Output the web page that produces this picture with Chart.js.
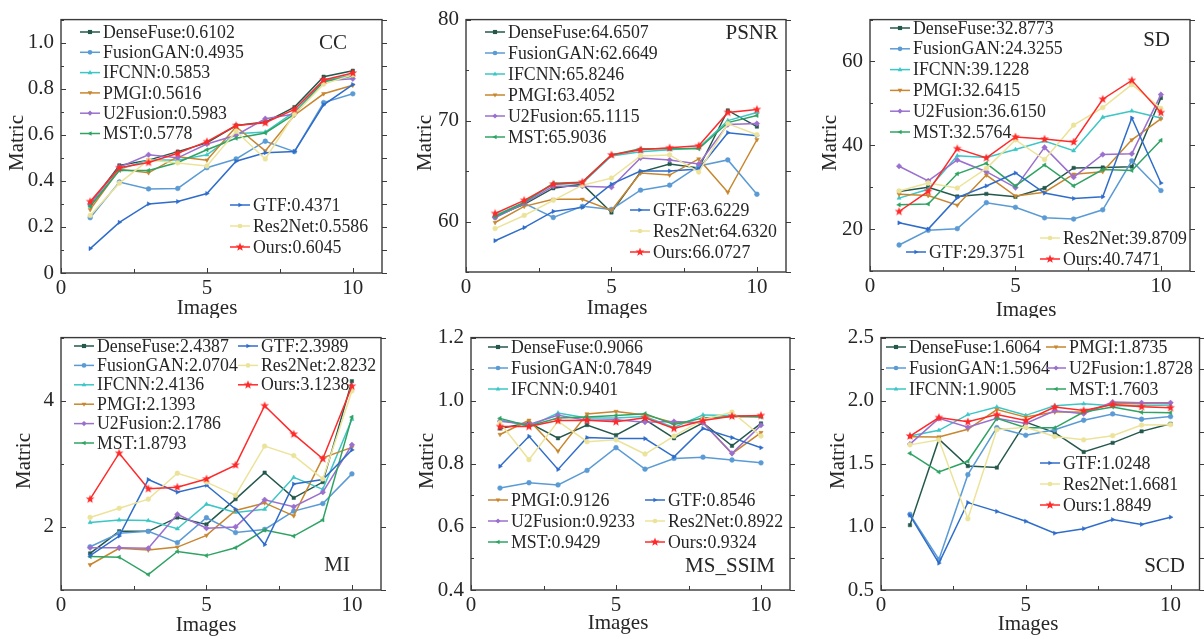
<!DOCTYPE html>
<html><head><meta charset="utf-8">
<script src="https://cdn.jsdelivr.net/npm/chart.js@4/dist/chart.umd.min.js"></script>
<style>
html,body{margin:0;padding:0;background:#fff;width:1204px;height:639px;overflow:hidden;position:relative}
.cell{position:absolute}
canvas{display:block}
</style></head><body>
<div class="cell" style="left:0px;top:0px"><canvas id="c0" width="400" height="318"></canvas></div>
<div class="cell" style="left:400px;top:0px"><canvas id="c1" width="400" height="318"></canvas></div>
<div class="cell" style="left:800px;top:0px"><canvas id="c2" width="404" height="318"></canvas></div>
<div class="cell" style="left:0px;top:318px"><canvas id="c3" width="400" height="321"></canvas></div>
<div class="cell" style="left:400px;top:318px"><canvas id="c4" width="400" height="321"></canvas></div>
<div class="cell" style="left:800px;top:318px"><canvas id="c5" width="404" height="321"></canvas></div>
<script>
// ---------------- DATA ----------------
const categories = [1, 2, 3, 4, 5, 6, 7, 8, 9, 10];
const methods = ['DenseFuse', 'FusionGAN', 'IFCNN', 'PMGI', 'U2Fusion', 'MST', 'GTF', 'Res2Net', 'Ours'];
const xTickValues = [0, 5, 10];

// CC
const ccDenseFuse = [0.300, 0.467, 0.490, 0.527, 0.565, 0.640, 0.655, 0.720, 0.852, 0.878];
const ccFusionGAN = [0.240, 0.395, 0.365, 0.367, 0.457, 0.495, 0.572, 0.527, 0.740, 0.778];
const ccIFCNN     = [0.290, 0.450, 0.490, 0.490, 0.513, 0.605, 0.612, 0.700, 0.835, 0.860];
const ccPMGI      = [0.275, 0.450, 0.435, 0.505, 0.490, 0.635, 0.530, 0.685, 0.778, 0.815];
const ccU2Fusion  = [0.300, 0.460, 0.513, 0.500, 0.560, 0.598, 0.670, 0.690, 0.835, 0.843];
const ccMST       = [0.290, 0.445, 0.445, 0.480, 0.535, 0.585, 0.608, 0.690, 0.830, 0.855];
const ccGTF       = [0.106, 0.220, 0.300, 0.310, 0.345, 0.485, 0.522, 0.527, 0.730, 0.818];
const ccRes2Net   = [0.250, 0.390, 0.490, 0.478, 0.465, 0.615, 0.495, 0.690, 0.820, 0.860];
const ccOurs      = [0.310, 0.457, 0.480, 0.520, 0.570, 0.640, 0.652, 0.710, 0.838, 0.868];
const ccMeans     = [0.6102, 0.4935, 0.5853, 0.5616, 0.5983, 0.5778, 0.4371, 0.5586, 0.6045];
const ccYTicks    = [0, 0.2, 0.4, 0.6, 0.8, 1.0];

// PSNR
const psnrDenseFuse = [60.5, 61.7, 63.3, 63.7, 60.9, 64.9, 65.7, 65.3, 71.0, 69.4];
const psnrFusionGAN = [60.4, 61.8, 60.4, 61.5, 61.2, 63.1, 63.6, 65.5, 66.1, 62.7];
const psnrIFCNN     = [60.6, 61.9, 63.7, 63.8, 66.5, 66.9, 67.1, 67.3, 70.0, 70.8];
const psnrPMGI      = [59.9, 61.5, 62.2, 62.2, 61.1, 64.8, 64.6, 66.2, 62.9, 68.1];
const psnrU2Fusion  = [60.4, 61.8, 63.5, 63.5, 63.4, 66.3, 66.1, 65.7, 69.6, 69.7];
const psnrMST       = [60.5, 61.9, 63.8, 63.9, 66.6, 67.2, 67.2, 67.2, 69.8, 70.5];
const psnrGTF       = [58.1, 59.4, 61.0, 61.4, 63.7, 65.0, 65.0, 65.2, 68.8, 68.5];
const psnrRes2Net   = [59.3, 60.6, 62.1, 63.6, 64.3, 66.5, 66.6, 64.9, 69.7, 68.6];
const psnrOurs      = [60.8, 62.1, 63.7, 63.9, 66.6, 67.1, 67.3, 67.5, 70.8, 71.1];
const psnrMeans     = [64.6507, 62.6649, 65.8246, 63.4052, 65.1115, 65.9036, 63.6229, 64.6320, 66.0727];
const psnrYTicks    = [60, 70, 80];

// SD
const sdDenseFuse = [29.0, 30.0, 27.8, 28.4, 27.7, 29.8, 34.6, 34.7, 34.9, 51.3];
const sdFusionGAN = [16.2, 19.7, 20.1, 26.3, 25.2, 22.7, 22.4, 24.6, 36.3, 29.2];
const sdIFCNN     = [27.4, 29.5, 37.5, 37.1, 39.0, 41.0, 38.7, 46.7, 48.2, 46.5];
const sdPMGI      = [28.3, 28.0, 25.7, 32.9, 27.9, 28.8, 33.1, 33.7, 41.3, 46.3];
const sdU2Fusion  = [35.0, 31.5, 36.5, 33.7, 29.9, 39.5, 32.4, 37.8, 38.0, 52.1];
const sdMST       = [25.8, 26.0, 33.2, 35.7, 30.3, 35.3, 30.3, 34.2, 34.0, 41.2];
const sdGTF       = [21.5, 20.0, 27.5, 30.3, 33.4, 28.6, 27.3, 27.7, 46.5, 31.0];
const sdRes2Net   = [29.1, 31.0, 29.8, 34.5, 41.3, 36.6, 44.8, 49.0, 54.5, 48.8];
const sdOurs      = [24.2, 29.0, 39.2, 37.0, 42.0, 41.5, 40.8, 51.0, 55.5, 47.8];
const sdMeans     = [32.8773, 24.3255, 39.1228, 32.6415, 36.6150, 32.5764, 29.3751, 39.8709, 40.7471];
const sdYTicks    = [20, 40, 60];

// MI
const miDenseFuse = [1.58, 1.93, 1.93, 2.15, 2.04, 2.44, 2.86, 2.46, 2.71, 4.31];
const miFusionGAN = [1.685, 1.90, 1.93, 1.75, 2.145, 1.91, 1.96, 2.25, 2.37, 2.84];
const miIFCNN     = [2.07, 2.11, 2.10, 1.97, 2.36, 2.23, 2.28, 2.785, 2.595, 3.705];
const miPMGI      = [1.40, 1.66, 1.633, 1.68, 1.865, 2.26, 2.38, 2.175, 3.095, 3.26];
const miU2Fusion  = [1.67, 1.67, 1.66, 2.20, 1.98, 2.00, 2.43, 2.32, 2.55, 3.30];
const miMST       = [1.53, 1.52, 1.245, 1.61, 1.545, 1.67, 1.95, 1.855, 2.11, 3.74];
const miGTF       = [1.545, 1.855, 2.75, 2.55, 2.66, 2.28, 1.72, 2.68, 2.75, 3.22];
const miRes2Net   = [2.15, 2.295, 2.44, 2.85, 2.71, 2.50, 3.28, 3.13, 2.76, 4.155];
const miOurs      = [2.44, 3.168, 2.605, 2.63, 2.76, 2.98, 3.92, 3.47, 3.08, 4.23];
const miMeans     = [2.4387, 2.0704, 2.4136, 2.1393, 2.1786, 1.8793, 2.3989, 2.8232, 3.1238];
const miYTicks    = [2, 4];

// MS_SSIM
const msDenseFuse = [0.912, 0.930, 0.881, 0.923, 0.891, 0.940, 0.881, 0.930, 0.857, 0.928];
const msFusionGAN = [0.723, 0.740, 0.733, 0.779, 0.851, 0.783, 0.817, 0.821, 0.812, 0.803];
const msIFCNN     = [0.940, 0.918, 0.961, 0.945, 0.945, 0.950, 0.915, 0.955, 0.953, 0.950];
const msPMGI      = [0.893, 0.938, 0.840, 0.958, 0.966, 0.955, 0.930, 0.930, 0.832, 0.899];
const msU2Fusion  = [0.935, 0.925, 0.954, 0.938, 0.940, 0.932, 0.934, 0.930, 0.833, 0.922];
const msMST       = [0.944, 0.920, 0.945, 0.948, 0.953, 0.959, 0.925, 0.945, 0.950, 0.948];
const msGTF       = [0.792, 0.887, 0.782, 0.883, 0.880, 0.880, 0.822, 0.912, 0.883, 0.851];
const msRes2Net   = [0.930, 0.813, 0.935, 0.870, 0.876, 0.831, 0.888, 0.940, 0.964, 0.888];
const msOurs      = [0.918, 0.918, 0.937, 0.938, 0.933, 0.946, 0.912, 0.937, 0.951, 0.953];
const msMeans     = [0.9066, 0.7849, 0.9401, 0.9126, 0.9233, 0.9429, 0.8546, 0.8922, 0.9324];
const msYTicks    = [0.4, 0.6, 0.8, 1.0, 1.2];

// SCD
const scdDenseFuse = [1.014, 1.695, 1.482, 1.470, 1.830, 1.747, 1.594, 1.666, 1.757, 1.817];
const scdFusionGAN = [1.100, 0.742, 1.414, 1.786, 1.726, 1.770, 1.845, 1.895, 1.853, 1.874];
const scdIFCNN     = [1.720, 1.765, 1.890, 1.950, 1.884, 1.960, 1.975, 1.960, 1.960, 1.965];
const scdPMGI      = [1.715, 1.713, 1.773, 1.930, 1.870, 1.910, 1.910, 1.975, 1.975, 1.980];
const scdU2Fusion  = [1.656, 1.860, 1.790, 1.860, 1.820, 1.920, 1.897, 1.990, 1.983, 1.983];
const scdMST       = [1.583, 1.435, 1.520, 1.860, 1.786, 1.785, 1.910, 1.950, 1.908, 1.905];
const scdGTF       = [1.092, 0.713, 1.193, 1.123, 1.045, 0.950, 0.986, 1.058, 1.020, 1.077];
const scdRes2Net   = [1.650, 1.690, 1.064, 1.770, 1.790, 1.716, 1.690, 1.723, 1.807, 1.810];
const scdOurs      = [1.720, 1.866, 1.833, 1.890, 1.843, 1.950, 1.923, 1.970, 1.952, 1.944];
const scdMeans     = [1.6064, 1.5964, 1.9005, 1.8735, 1.8728, 1.7603, 1.0248, 1.6681, 1.8849];
const scdYTicks    = [0.5, 1.0, 1.5, 2.0, 2.5];

// ---------------- STYLE ----------------
const seriesColors = ['#25584c', '#5b9bd5', '#3cc6c6', '#c8862e', '#9a6fce', '#2fa363', '#2f6dcb', '#ece39a', '#ff2a2a'];
const seriesMarkers = ['rect', 'circle', 'triangle', 'triangle', 'rectRot', 'triangle', 'triangle', 'circle', 'star'];
const seriesRot = [0, 0, 0, 180, 0, 270, 90, 0, 0];
const FONT = 'Liberation Serif, Times New Roman, serif';
const TEXT = '#262626';

function starImage(color, r) {
  const c = document.createElement('canvas');
  const s = Math.ceil(r * 2 + 2);
  c.width = s; c.height = s;
  const g = c.getContext('2d');
  g.fillStyle = color;
  g.beginPath();
  for (let k = 0; k < 10; k++) {
    const rad = k % 2 === 0 ? r : r * 0.42;
    const a = -Math.PI / 2 + k * Math.PI / 5;
    const px = s / 2 + rad * Math.cos(a), py = s / 2 + rad * Math.sin(a);
    if (k) g.lineTo(px, py); else g.moveTo(px, py);
  }
  g.closePath(); g.fill();
  return c;
}
const star = starImage('#ff2a2a', 4.6);

function drawMarker(ctx, i, x, y) {
  const style = seriesMarkers[i];
  const col = seriesColors[i];
  if (style === 'star') { ctx.drawImage(star, x - star.width / 2, y - star.height / 2); return; }
  ctx.save();
  ctx.fillStyle = col; ctx.strokeStyle = col; ctx.lineWidth = 1;
  ctx.translate(x, y);
  ctx.rotate(seriesRot[i] * Math.PI / 180);
  const r = 2.6;
  ctx.beginPath();
  if (style === 'rect') { ctx.rect(-r * 0.8, -r * 0.8, r * 1.6, r * 1.6); }
  else if (style === 'circle') { ctx.arc(0, 0, r * 0.9, 0, Math.PI * 2); }
  else if (style === 'rectRot') { ctx.moveTo(0, -r); ctx.lineTo(r, 0); ctx.lineTo(0, r); ctx.lineTo(-r, 0); ctx.closePath(); }
  else if (style === 'triangle') { ctx.moveTo(0, -r); ctx.lineTo(r * 0.9, r * 0.6); ctx.lineTo(-r * 0.9, r * 0.6); ctx.closePath(); }
  ctx.fill();
  ctx.restore();
}

// ---------------- PANELS ----------------
const panels = [
  { id: 'c0', cell: [0, 0, 400, 318], area: [61, 14, 382, 273], y: [0, 1.1], yTicks: ccYTicks, yMinor: 0.1,
    fmt: v => v === 0 ? '0' : v.toFixed(1), name: 'CC', nameAt: [347, 43],
    series: [ccDenseFuse, ccFusionGAN, ccIFCNN, ccPMGI, ccU2Fusion, ccMST, ccGTF, ccRes2Net, ccOurs], means: ccMeans,
    yTitle: [17, 143], xTitle: [207, 308],
    legend: [{ x: 80, y: 32, dy: 20.3, items: [0, 1, 2, 3, 4, 5] }, { x: 230, y: 205, dy: 21, items: [6, 7, 8] }] },
  { id: 'c1', cell: [400, 0, 400, 318], area: [466, 15, 786, 272], y: [55, 80], yTicks: psnrYTicks, yMinor: 5,
    fmt: v => String(v), name: 'PSNR', nameAt: [778, 33],
    series: [psnrDenseFuse, psnrFusionGAN, psnrIFCNN, psnrPMGI, psnrU2Fusion, psnrMST, psnrGTF, psnrRes2Net, psnrOurs], means: psnrMeans,
    yTitle: [425, 143], xTitle: [617, 308],
    legend: [{ x: 485, y: 32, dy: 21, items: [0, 1, 2, 3, 4, 5] }, { x: 630, y: 210, dy: 21, items: [6, 7, 8] }] },
  { id: 'c2', cell: [800, 0, 404, 318], area: [870, 14, 1190, 271], y: [10, 70], yTicks: sdYTicks, yMinor: 10,
    fmt: v => String(v), name: 'SD', nameAt: [1170, 40],
    series: [sdDenseFuse, sdFusionGAN, sdIFCNN, sdPMGI, sdU2Fusion, sdMST, sdGTF, sdRes2Net, sdOurs], means: sdMeans,
    yTitle: [830, 143], xTitle: [1026, 310],
    legend: [{ x: 890, y: 28, dy: 20.8, items: [0, 1, 2, 3, 4, 5] }, { x: 1040, y: 238, dy: 21, items: [7, 8] }, { x: 906, y: 252, dy: 0, items: [6] }] },
  { id: 'c3', cell: [0, 318, 400, 321], area: [61, 332, 381, 590], y: [1, 5], yTicks: miYTicks, yMinor: 1,
    fmt: v => String(v), name: 'MI', nameAt: [350, 565],
    series: [miDenseFuse, miFusionGAN, miIFCNN, miPMGI, miU2Fusion, miMST, miGTF, miRes2Net, miOurs], means: miMeans,
    yTitle: [24, 461], xTitle: [206, 625],
    legend: [{ x: 74, y: 346, dy: 19.4, items: [0, 1, 2, 3, 4, 5] }, { x: 238, y: 346, dy: 19.4, items: [6, 7, 8] }] },
  { id: 'c4', cell: [400, 318, 400, 321], area: [471, 333, 790, 590], y: [0.4, 1.2], yTicks: msYTicks, yMinor: 0.1,
    fmt: v => v.toFixed(1), name: 'MS_SSIM', nameAt: [775, 566],
    series: [msDenseFuse, msFusionGAN, msIFCNN, msPMGI, msU2Fusion, msMST, msGTF, msRes2Net, msOurs], means: msMeans,
    yTitle: [427, 461], xTitle: [618, 623],
    legend: [{ x: 488, y: 347, dy: 21, items: [0, 1, 2] }, { x: 488, y: 500, dy: 21, items: [3, 4, 5] }, { x: 645, y: 500, dy: 21, items: [6, 7, 8] }] },
  { id: 'c5', cell: [800, 318, 404, 321], area: [881, 333, 1200, 590], y: [0.5, 2.5], yTicks: scdYTicks, yMinor: 0.25,
    fmt: v => v.toFixed(1), name: 'SCD', nameAt: [1185, 566],
    series: [scdDenseFuse, scdFusionGAN, scdIFCNN, scdPMGI, scdU2Fusion, scdMST, scdGTF, scdRes2Net, scdOurs], means: scdMeans,
    yTitle: [838, 461], xTitle: [1028, 624],
    legend: [{ x: 886, y: 347, dy: 21, items: [0, 1, 2] }, { x: 1046, y: 347, dy: 21, items: [3, 4, 5] }, { x: 1040, y: 463, dy: 21, items: [6, 7, 8] }] }
];

const decor = {
  id: 'decor',
  afterDraw(chart) {
    const p = chart.options.plugins.decor.panel;
    const ctx = chart.ctx;
    const a = chart.chartArea;
    const ox = p.cell[0], oy = p.cell[1];
    const xs = chart.scales.x, ys = chart.scales.y;
    ctx.save();
    // frame
    ctx.strokeStyle = '#3a3a3a'; ctx.lineWidth = 1.4;
    ctx.strokeRect(a.left, a.top, a.right - a.left, a.bottom - a.top);
    // y ticks: left inward, right outward
    ctx.lineWidth = 1;
    const n = Math.round((p.y[1] - p.y[0]) / p.yMinor);
    for (let k = 0; k <= n; k++) {
      const v = +(p.y[0] + k * p.yMinor).toFixed(6);
      const yy = Math.round(ys.getPixelForValue(v)) + 0.5;
      const major = p.yTicks.some(t => Math.abs(t - v) < 1e-6);
      const len = major ? 5 : 3;
      ctx.beginPath();
      ctx.moveTo(a.left, yy); ctx.lineTo(a.left + len, yy);
      ctx.moveTo(a.right, yy); ctx.lineTo(a.right + 5, yy);
      ctx.stroke();
    }
    // x ticks: bottom inward every 2.5
    for (let v = 0; v <= 11; v += 2.5) {
      const xx = Math.round(xs.getPixelForValue(v)) + 0.5;
      const major = v % 5 === 0;
      ctx.beginPath();
      ctx.moveTo(xx, a.bottom); ctx.lineTo(xx, a.bottom - (major ? 5 : 4));
      ctx.stroke();
    }
    // axis titles
    ctx.fillStyle = TEXT;
    ctx.font = '21px ' + FONT;
    ctx.textAlign = 'center'; ctx.textBaseline = 'middle';
    ctx.fillText('Images', p.xTitle[0] - ox, p.xTitle[1] - oy);
    ctx.save();
    ctx.translate(p.yTitle[0] - ox, p.yTitle[1] - oy);
    ctx.rotate(-Math.PI / 2);
    ctx.fillText('Matric', 0, 0);
    ctx.restore();
    // metric name
    ctx.textAlign = 'right';
    ctx.fillText(p.name, p.nameAt[0] - ox, p.nameAt[1] - oy);
    // legend
    ctx.font = '17.8px ' + FONT;
    ctx.textAlign = 'left';
    p.legend.forEach(g => {
      g.items.forEach((i, r) => {
        const lx = g.x - ox, ly = g.y - oy + r * g.dy;
        ctx.strokeStyle = seriesColors[i]; ctx.lineWidth = 1.5;
        ctx.beginPath(); ctx.moveTo(lx, ly); ctx.lineTo(lx + 20, ly); ctx.stroke();
        drawMarker(ctx, i, lx + 10, ly);
        ctx.fillStyle = TEXT;
        ctx.fillText(methods[i] + ':' + p.means[i].toFixed(4), lx + 23, ly + 1);
      });
    });
    ctx.restore();
  }
};

panels.forEach(p => {
  const [cx, cy, cw, ch] = p.cell;
  const [L, T, R, B] = p.area;
  const datasets = methods.map((m, i) => ({
    label: m,
    data: categories.map((c, j) => ({ x: c, y: p.series[i][j] })),
    borderColor: seriesColors[i],
    backgroundColor: seriesColors[i],
    borderWidth: 1.5,
    pointStyle: seriesMarkers[i] === 'star' ? star : seriesMarkers[i],
    pointRotation: seriesRot[i],
    pointRadius: seriesMarkers[i] === 'rectRot' ? 2.8 : 2.4,
    pointBorderWidth: 0.5,
    tension: 0,
    order: 8 - i
  }));
  new Chart(document.getElementById(p.id), {
    type: 'line',
    data: { datasets },
    plugins: [decor],
    options: {
      responsive: false, animation: false, devicePixelRatio: 1,
      layout: { padding: { left: 0, top: T - cy, right: cx + cw - R, bottom: 0 } },
      plugins: { legend: { display: false }, tooltip: { enabled: false }, decor: { panel: p } },
      scales: {
        x: {
          type: 'linear', min: 0, max: 11,
          afterBuildTicks: s => { s.ticks = xTickValues.map(v => ({ value: v })); },
          afterFit: s => { s.height = cy + ch - B; },
          grid: { display: false, drawTicks: false }, border: { display: false },
          ticks: { padding: 3, color: TEXT, font: { family: FONT, size: 21 }, maxRotation: 0, autoSkip: false }
        },
        y: {
          type: 'linear', min: p.y[0], max: p.y[1],
          afterBuildTicks: s => { s.ticks = p.yTicks.map(v => ({ value: v })); },
          afterFit: s => { s.width = L - cx; },
          grid: { display: false, drawTicks: false }, border: { display: false },
          ticks: { padding: 7, color: TEXT, font: { family: FONT, size: 21 }, callback: v => p.fmt(v), autoSkip: false }
        }
      }
    }
  });
});
</script>
</body></html>
